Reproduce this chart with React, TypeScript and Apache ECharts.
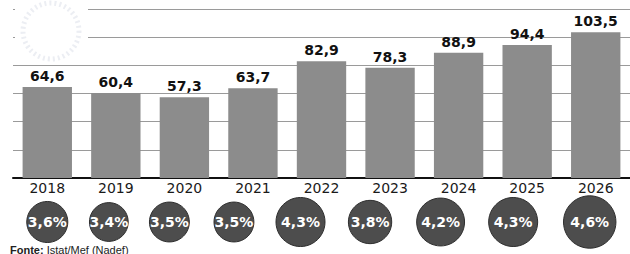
import React, { useEffect, useRef } from "react";
import * as echarts from "echarts";

const years = ["2018", "2019", "2020", "2021", "2022", "2023", "2024", "2025", "2026"];
const values = [64.6, 60.4, 57.3, 63.7, 82.9, 78.3, 88.9, 94.4, 103.5];
const rates = [3.6, 3.4, 3.5, 3.5, 4.3, 3.8, 4.2, 4.3, 4.6];
const axisMax = 120;
const axisStep = 20;
const source = "Istat/Mef (Nadef)";

// style-only horizontal nudges for the bubble row
const bubbleShift = [0, -7, -15, -19, -21, -20, -18, -14, -6];

const fmt = (v: number, d = 1) => v.toFixed(d).replace(".", ",");

export default function App() {
  const ref = useRef<HTMLDivElement>(null);
  useEffect(() => {
    if (!ref.current) return;
    const chart = echarts.init(ref.current, null, { renderer: "svg" });
    chart.setOption({
      animation: false,
      backgroundColor: "#ffffff",
      grid: [
        { left: 13, right: 0, top: 9, bottom: 76 },
        { left: 13, right: 0, top: 196, bottom: 6 },
      ],
      xAxis: [
        {
          type: "category",
          gridIndex: 0,
          data: years,
          axisLine: { lineStyle: { color: "#111", width: 2 } },
          axisTick: { show: false },
          axisLabel: {
            color: "#1a1a1a",
            fontFamily: "DejaVu Sans",
            fontSize: 14,
            margin: 3,
          },
        },
        {
          type: "category",
          gridIndex: 1,
          data: years,
          show: false,
        },
      ],
      yAxis: [
        {
          type: "value",
          gridIndex: 0,
          min: 0,
          max: axisMax,
          interval: axisStep,
          axisLabel: { show: false },
          axisLine: { show: false },
          axisTick: { show: false },
          splitLine: { lineStyle: { color: "#9a9a9a", width: 1 } },
        },
        { type: "value", gridIndex: 1, min: 0, max: 1, show: false },
      ],
      graphic: [
        {
          type: "rect",
          z: 1,
          shape: { x: 15, y: 0, width: 73, height: 52 },
          style: { fill: "#ffffff" },
        },
        {
          type: "circle",
          z: 1,
          shape: { cx: 51, cy: 31, r: 28 },
          style: { fill: "#ffffff", stroke: "#eceef3", lineWidth: 5, lineDash: [2, 3] },
        },
        {
          type: "text",
          left: 10,
          top: 244,
          z: 5,
          style: {
            text: "{b|Fonte:} " + source,
            fontFamily: "Liberation Sans Narrow, Liberation Sans",
            fontSize: 11,
            fill: "#222",
            rich: { b: { fontWeight: "bold", fontSize: 11, fill: "#222", fontFamily: "Liberation Sans Narrow, Liberation Sans" } },
          },
        },
      ],
      series: [
        {
          type: "bar",
          xAxisIndex: 0,
          yAxisIndex: 0,
          data: values,
          barCategoryGap: "28%",
          z: 3,
          itemStyle: { color: "#8c8c8c" },
          label: {
            show: true,
            position: "top",
            distance: 4,
            color: "#111",
            fontFamily: "DejaVu Sans",
            fontWeight: "bold",
            fontSize: 14,
            formatter: (p: any) => fmt(p.value),
          },
        },
        {
          type: "scatter",
          xAxisIndex: 1,
          yAxisIndex: 1,
          clip: false,
          data: rates.map((r, i) => ({
            value: [i, 0.5],
            symbolOffset: [bubbleShift[i], 0],
          })),
          symbol: "circle",
          symbolSize: (_v: any, p: any) => rates[p.dataIndex] * 11.4,
          itemStyle: { color: "#4d4d4d", borderColor: "#2e2e2e", borderWidth: 1, opacity: 1 },
          label: {
            show: true,
            position: "inside",
            color: "#ffffff",
            fontFamily: "DejaVu Sans",
            fontWeight: "bold",
            fontSize: 14,
            formatter: (p: any) => fmt(rates[p.dataIndex]) + "%",
          },
        },
      ],
    });
    return () => chart.dispose();
  }, []);
  return (
    <div
      ref={ref}
      style={{ position: "fixed", left: 0, top: 0, width: 630, height: 254 }}
    />
  );
}
